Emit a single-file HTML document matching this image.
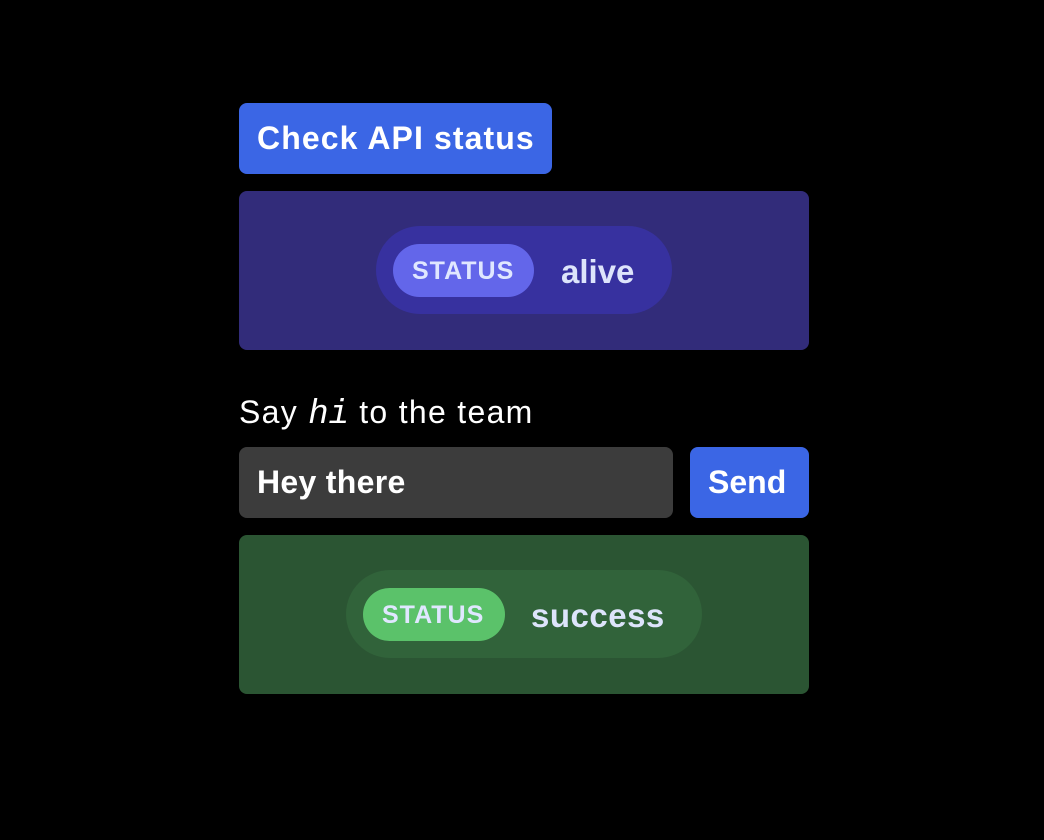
<!DOCTYPE html>
<html><head><style>
body{margin:0;background:#000;width:1044px;height:840px;position:relative;font-family:"Liberation Sans",sans-serif;overflow:hidden}
.a{position:absolute;box-sizing:border-box}
.t{position:absolute;white-space:nowrap;line-height:1}
</style></head><body>
<div class="a" style="left:239px;top:103px;width:313px;height:71px;background:#3b66e5;border-radius:8px"></div>
<div class="t" style="left:257px;top:122px;font-size:32px;font-weight:bold;color:#fff;letter-spacing:1.1px">Check API status</div>

<div class="a" style="left:239px;top:191px;width:570px;height:159px;background:#322c7a;border-radius:8px"></div>
<div class="a" style="left:376px;top:226px;width:296px;height:88px;background:#37319f;border-radius:44px"></div>
<div class="a" style="left:393px;top:244px;width:141px;height:53px;background:#6366ea;border-radius:27px"></div>
<div class="t" style="left:412px;top:259px;font-size:25px;font-weight:bold;color:#e0e7ff;letter-spacing:1px">STATUS</div>
<div class="t" style="left:561px;top:255px;font-size:33px;font-weight:bold;color:#dde4fb">alive</div>

<div class="t" style="left:239px;top:396px;font-size:32px;color:#fff;letter-spacing:1.3px">Say <i style="font-family:'Liberation Mono',monospace;letter-spacing:0;font-size:34px">hi</i> to the team</div>

<div class="a" style="left:239px;top:447px;width:434px;height:71px;background:#3c3c3c;border-radius:8px"></div>
<div class="t" style="left:257px;top:466px;font-size:32px;font-weight:bold;color:#fff;letter-spacing:0.3px">Hey there</div>
<div class="a" style="left:690px;top:447px;width:119px;height:71px;background:#3b66e5;border-radius:8px"></div>
<div class="t" style="left:708px;top:466px;font-size:32px;font-weight:bold;color:#fff">Send</div>

<div class="a" style="left:239px;top:535px;width:570px;height:159px;background:#2b5533;border-radius:8px"></div>
<div class="a" style="left:346px;top:570px;width:356px;height:88px;background:#31633a;border-radius:44px"></div>
<div class="a" style="left:363px;top:588px;width:142px;height:53px;background:#5bc26a;border-radius:27px"></div>
<div class="t" style="left:382px;top:603px;font-size:25px;font-weight:bold;color:#e0e7ff;letter-spacing:1px">STATUS</div>
<div class="t" style="left:531px;top:599px;font-size:33px;font-weight:bold;color:#dde4fb;letter-spacing:0.5px">success</div>
</body></html>
